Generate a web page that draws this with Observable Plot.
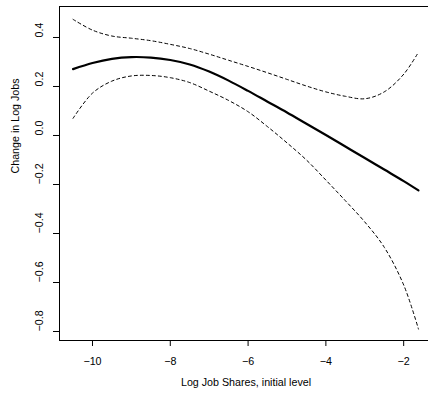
<!DOCTYPE html>
<html>
<head>
<meta charset="utf-8">
<script src="https://cdn.jsdelivr.net/npm/d3@7"></script>
<script src="https://cdn.jsdelivr.net/npm/@observablehq/plot@0.6"></script>
<style>
  html, body { margin: 0; padding: 0; background: #fff; }
</style>
</head>
<body>
<div id="chart"></div>
<script>
// Data
const xGrid  = [-10.5, -10, -9.5, -9, -8.5, -8, -7.5, -7, -6.5, -6, -5.5, -5, -4.5, -4, -3.5, -3, -2.5, -2, -1.62];
const fitVals = [0.271, 0.296, 0.313, 0.320, 0.318, 0.308, 0.290, 0.261, 0.224, 0.182, 0.138, 0.094, 0.048, 0.002, -0.045, -0.092, -0.139, -0.186, -0.224];
const upperVals = [0.474, 0.430, 0.406, 0.397, 0.387, 0.372, 0.355, 0.332, 0.307, 0.282, 0.256, 0.229, 0.202, 0.178, 0.160, 0.150, 0.178, 0.250, 0.340];
const lowerVals = [0.070, 0.173, 0.222, 0.243, 0.245, 0.236, 0.216, 0.181, 0.143, 0.097, 0.036, -0.030, -0.100, -0.182, -0.266, -0.353, -0.456, -0.610, -0.790];

const xTicks = [-10, -8, -6, -4, -2];
const yTicks = [-0.8, -0.6, -0.4, -0.2, 0.0, 0.2, 0.4];
const xTitle = "Log Job Shares, initial level";
const yTitle = "Change in Log Jobs";

const fitData = xGrid.map((x, i) => ({x, y: fitVals[i]}));
const upperData = xGrid.map((x, i) => ({x, y: upperVals[i]}));
const lowerData = xGrid.map((x, i) => ({x, y: lowerVals[i]}));

const minus = v => (v < 0 ? "\u2212" : "");
const fmtX = d => minus(d) + Math.abs(d);
const fmtY = d => (Math.abs(d) < 1e-9 ? "0.0" : minus(d) + Math.abs(d).toFixed(1));

const chart = Plot.plot({
  width: 428,
  height: 397,
  marginLeft: 59,
  marginRight: 0,
  marginTop: 6,
  marginBottom: 57,
  style: {fontFamily: "'Liberation Sans', Arial, Helvetica, sans-serif", fontSize: "10.7px", background: "#fff", color: "#000"},
  x: {domain: [-10.848, -1.362], axis: null},
  y: {domain: [-0.8367, 0.5265], axis: null},
  marks: [
    Plot.frame({anchor: "left", stroke: "#000"}),
    Plot.frame({anchor: "bottom", stroke: "#000"}),
    Plot.frame({anchor: "top", stroke: "#000"}),
    Plot.axisX({ticks: xTicks, tickSize: 6, tickPadding: 11, tickFormat: fmtX, label: null, stroke: "#000"}),
    Plot.axisY({ticks: yTicks, tickSize: 6, tickFormat: () => "", label: null, stroke: "#000"}),
    Plot.text(yTicks, {y: d => d, text: fmtY, frameAnchor: "left", dx: -19.5, rotate: -90, fill: "#000"}),
    Plot.text([yTitle], {text: d => d, frameAnchor: "left", dx: -43.5, rotate: -90, fill: "#000"}),
    Plot.text([xTitle], {text: d => d, frameAnchor: "bottom", dy: 45, dx: 2, fill: "#000"}),
    Plot.line(upperData, {x: "x", y: "y", stroke: "#000", strokeWidth: 1, strokeDasharray: "3,3", curve: "catmull-rom"}),
    Plot.line(lowerData, {x: "x", y: "y", stroke: "#000", strokeWidth: 1, strokeDasharray: "3,3", curve: "catmull-rom"}),
    Plot.line(fitData, {x: "x", y: "y", stroke: "#000", strokeWidth: 2.2, curve: "catmull-rom"})
  ]
});
document.getElementById("chart").appendChild(chart);
</script>
</body>
</html>
